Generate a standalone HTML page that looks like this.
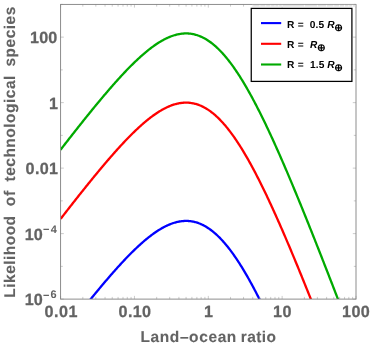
<!DOCTYPE html>
<html><head><meta charset="utf-8"><title>Likelihood of technological species</title>
<style>
html,body{margin:0;padding:0;background:#fff;}
svg{display:block;}
text{font-family:"Liberation Sans",sans-serif;font-weight:bold;}
</style></head><body>
<svg style="will-change:transform" width="371" height="347" viewBox="0 0 371 347">
<rect width="371" height="347" fill="#fff"/>
<defs><clipPath id="c"><rect x="60.6" y="4.4" width="295.4" height="294.7"/></clipPath></defs>
<g clip-path="url(#c)" fill="none" stroke-width="2.3" stroke-linejoin="round">
<path d="M60.60 337.19L61.34 336.24L62.08 335.29L62.82 334.34L63.55 333.39L64.29 332.44L65.03 331.49L65.77 330.54L66.51 329.59L67.25 328.64L67.99 327.70L68.72 326.75L69.46 325.81L70.20 324.86L70.94 323.92L71.68 322.98L72.42 322.04L73.15 321.10L73.89 320.16L74.63 319.22L75.37 318.29L76.11 317.35L76.85 316.41L77.59 315.48L78.32 314.55L79.06 313.62L79.80 312.69L80.54 311.76L81.28 310.83L82.02 309.90L82.75 308.98L83.49 308.05L84.23 307.13L84.97 306.21L85.71 305.29L86.45 304.37L87.19 303.45L87.92 302.54L88.66 301.62L89.40 300.71L90.14 299.80L90.88 298.89L91.62 297.98L92.36 297.08L93.09 296.17L93.83 295.27L94.57 294.37L95.31 293.47L96.05 292.58L96.79 291.68L97.53 290.79L98.26 289.90L99.00 289.01L99.74 288.12L100.48 287.24L101.22 286.35L101.96 285.47L102.69 284.60L103.43 283.72L104.17 282.85L104.91 281.98L105.65 281.11L106.39 280.24L107.13 279.38L107.86 278.52L108.60 277.66L109.34 276.81L110.08 275.95L110.82 275.10L111.56 274.26L112.29 273.42L113.03 272.57L113.77 271.74L114.51 270.90L115.25 270.07L115.99 269.25L116.73 268.42L117.46 267.60L118.20 266.79L118.94 265.97L119.68 265.16L120.42 264.36L121.16 263.56L121.90 262.76L122.63 261.97L123.37 261.18L124.11 260.39L124.85 259.61L125.59 258.83L126.33 258.06L127.06 257.29L127.80 256.53L128.54 255.77L129.28 255.02L130.02 254.27L130.76 253.52L131.50 252.79L132.23 252.05L132.97 251.32L133.71 250.60L134.45 249.88L135.19 249.17L135.93 248.47L136.67 247.77L137.40 247.07L138.14 246.38L138.88 245.70L139.62 245.03L140.36 244.36L141.10 243.70L141.84 243.04L142.57 242.39L143.31 241.75L144.05 241.11L144.79 240.48L145.53 239.86L146.27 239.25L147.00 238.64L147.74 238.04L148.48 237.45L149.22 236.87L149.96 236.29L150.70 235.73L151.44 235.17L152.17 234.62L152.91 234.08L153.65 233.54L154.39 233.02L155.13 232.50L155.87 232.00L156.60 231.50L157.34 231.01L158.08 230.54L158.82 230.07L159.56 229.61L160.30 229.16L161.04 228.72L161.77 228.29L162.51 227.88L163.25 227.47L163.99 227.07L164.73 226.69L165.47 226.31L166.21 225.95L166.94 225.60L167.68 225.26L168.42 224.93L169.16 224.61L169.90 224.31L170.64 224.02L171.38 223.74L172.11 223.47L172.85 223.21L173.59 222.97L174.33 222.74L175.07 222.52L175.81 222.32L176.54 222.13L177.28 221.95L178.02 221.79L178.76 221.64L179.50 221.50L180.24 221.38L180.98 221.27L181.71 221.18L182.45 221.10L183.19 221.03L183.93 220.98L184.67 220.95L185.41 220.92L186.14 220.92L186.88 220.93L187.62 220.95L188.36 220.99L189.10 221.05L189.84 221.12L190.58 221.20L191.31 221.31L192.05 221.42L192.79 221.56L193.53 221.71L194.27 221.87L195.01 222.05L195.75 222.25L196.48 222.47L197.22 222.70L197.96 222.95L198.70 223.21L199.44 223.49L200.18 223.79L200.91 224.10L201.65 224.43L202.39 224.78L203.13 225.14L203.87 225.52L204.61 225.92L205.35 226.34L206.08 226.77L206.82 227.22L207.56 227.68L208.30 228.17L209.04 228.67L209.78 229.18L210.52 229.72L211.25 230.27L211.99 230.83L212.73 231.42L213.47 232.02L214.21 232.64L214.95 233.27L215.69 233.92L216.42 234.59L217.16 235.28L217.90 235.98L218.64 236.70L219.38 237.43L220.12 238.18L220.85 238.95L221.59 239.74L222.33 240.54L223.07 241.35L223.81 242.19L224.55 243.03L225.29 243.90L226.02 244.78L226.76 245.68L227.50 246.59L228.24 247.51L228.98 248.46L229.72 249.41L230.45 250.39L231.19 251.38L231.93 252.38L232.67 253.40L233.41 254.43L234.15 255.48L234.89 256.54L235.62 257.62L236.36 258.71L237.10 259.81L237.84 260.93L238.58 262.06L239.32 263.21L240.06 264.37L240.79 265.54L241.53 266.73L242.27 267.93L243.01 269.14L243.75 270.36L244.49 271.60L245.22 272.85L245.96 274.12L246.70 275.39L247.44 276.68L248.18 277.98L248.92 279.29L249.66 280.61L250.39 281.94L251.13 283.29L251.87 284.65L252.61 286.01L253.35 287.39L254.09 288.78L254.83 290.18L255.56 291.59L256.30 293.01L257.04 294.44L257.78 295.88L258.52 297.33L259.26 298.79L260.00 300.26L260.73 301.74L261.47 303.23L262.21 304.73L262.95 306.24L263.69 307.75L264.43 309.27L265.16 310.81L265.90 312.35L266.64 313.90L267.38 315.46L268.12 317.02L268.86 318.59L269.60 320.18L270.33 321.76L271.07 323.36L271.81 324.96L272.55 326.57L273.29 328.19L274.03 329.82L274.76 331.45L275.50 333.09L276.24 334.73L276.98 336.38L277.72 338.04L278.46 339.71L279.20 341.38L279.93 343.05L280.67 344.74L281.41 346.42L282.15 348.12L282.89 349.82L283.63 351.52L284.37 353.23L285.10 354.95L285.84 356.67L286.58 358.40L287.32 360.13L288.06 361.86L288.80 363.60L289.54 365.35L290.27 367.10L291.01 368.85L291.75 370.61L292.49 372.38L293.23 374.14L293.97 375.92L294.70 377.69L295.44 379.47L296.18 381.26L296.92 383.04L297.66 384.84L298.40 386.63L299.14 388.43L299.87 390.23L300.61 392.04L301.35 393.85L302.09 395.66L302.83 397.48L303.57 399.30L304.30 401.12L305.04 402.94L305.78 404.77L306.52 406.60L307.26 408.44L308.00 410.28L308.74 412.12L309.47 413.96L310.21 415.80L310.95 417.65L311.69 419.50L312.43 421.36L313.17 423.21L313.91 425.07L314.64 426.93L315.38 428.79L316.12 430.66L316.86 432.52L317.60 434.39L318.34 436.26L319.07 438.14L319.81 440.01L320.55 441.89L321.29 443.77L322.03 445.65L322.77 447.53L323.51 449.42L324.24 451.30L324.98 453.19L325.72 455.08L326.46 456.97L327.20 458.87L327.94 460.76L328.68 462.66L329.41 464.56L330.15 466.46L330.89 468.36L331.63 470.26L332.37 472.16L333.11 474.07L333.85 475.97L334.58 477.88L335.32 479.79L336.06 481.70L336.80 483.61L337.54 485.53L338.28 487.44L339.01 489.35L339.75 491.27L340.49 493.19L341.23 495.11L341.97 497.02L342.71 498.94L343.45 500.87L344.18 502.79L344.92 504.71L345.66 506.64L346.40 508.56L347.14 510.49L347.88 512.41L348.62 514.34L349.35 516.27L350.09 518.20L350.83 520.13L351.57 522.06L352.31 523.99L353.05 525.92L353.78 527.86L354.52 529.79L355.26 531.72L356.00 533.66" stroke="#0000ff"/>
<path d="M60.60 218.91L61.34 217.96L62.08 217.00L62.82 216.05L63.55 215.10L64.29 214.15L65.03 213.20L65.77 212.25L66.51 211.31L67.25 210.36L67.99 209.41L68.72 208.47L69.46 207.52L70.20 206.58L70.94 205.64L71.68 204.69L72.42 203.75L73.15 202.81L73.89 201.88L74.63 200.94L75.37 200.00L76.11 199.06L76.85 198.13L77.59 197.20L78.32 196.26L79.06 195.33L79.80 194.40L80.54 193.47L81.28 192.55L82.02 191.62L82.75 190.69L83.49 189.77L84.23 188.85L84.97 187.93L85.71 187.01L86.45 186.09L87.19 185.17L87.92 184.25L88.66 183.34L89.40 182.43L90.14 181.52L90.88 180.61L91.62 179.70L92.36 178.79L93.09 177.89L93.83 176.99L94.57 176.09L95.31 175.19L96.05 174.29L96.79 173.40L97.53 172.50L98.26 171.61L99.00 170.72L99.74 169.84L100.48 168.95L101.22 168.07L101.96 167.19L102.69 166.31L103.43 165.44L104.17 164.56L104.91 163.69L105.65 162.82L106.39 161.96L107.13 161.09L107.86 160.23L108.60 159.38L109.34 158.52L110.08 157.67L110.82 156.82L111.56 155.97L112.29 155.13L113.03 154.29L113.77 153.45L114.51 152.62L115.25 151.79L115.99 150.96L116.73 150.14L117.46 149.32L118.20 148.50L118.94 147.69L119.68 146.88L120.42 146.07L121.16 145.27L121.90 144.47L122.63 143.68L123.37 142.89L124.11 142.11L124.85 141.32L125.59 140.55L126.33 139.78L127.06 139.01L127.80 138.24L128.54 137.49L129.28 136.73L130.02 135.98L130.76 135.24L131.50 134.50L132.23 133.77L132.97 133.04L133.71 132.32L134.45 131.60L135.19 130.89L135.93 130.18L136.67 129.48L137.40 128.79L138.14 128.10L138.88 127.42L139.62 126.74L140.36 126.07L141.10 125.41L141.84 124.75L142.57 124.10L143.31 123.46L144.05 122.83L144.79 122.20L145.53 121.58L146.27 120.96L147.00 120.36L147.74 119.76L148.48 119.17L149.22 118.58L149.96 118.01L150.70 117.44L151.44 116.88L152.17 116.33L152.91 115.79L153.65 115.26L154.39 114.73L155.13 114.22L155.87 113.71L156.60 113.22L157.34 112.73L158.08 112.25L158.82 111.78L159.56 111.32L160.30 110.88L161.04 110.44L161.77 110.01L162.51 109.59L163.25 109.19L163.99 108.79L164.73 108.40L165.47 108.03L166.21 107.67L166.94 107.32L167.68 106.97L168.42 106.65L169.16 106.33L169.90 106.02L170.64 105.73L171.38 105.45L172.11 105.18L172.85 104.93L173.59 104.69L174.33 104.46L175.07 104.24L175.81 104.03L176.54 103.84L177.28 103.67L178.02 103.50L178.76 103.35L179.50 103.22L180.24 103.09L180.98 102.99L181.71 102.89L182.45 102.81L183.19 102.75L183.93 102.70L184.67 102.66L185.41 102.64L186.14 102.63L186.88 102.64L187.62 102.67L188.36 102.71L189.10 102.76L189.84 102.83L190.58 102.92L191.31 103.02L192.05 103.14L192.79 103.27L193.53 103.42L194.27 103.59L195.01 103.77L195.75 103.97L196.48 104.18L197.22 104.41L197.96 104.66L198.70 104.92L199.44 105.21L200.18 105.50L200.91 105.82L201.65 106.15L202.39 106.49L203.13 106.86L203.87 107.24L204.61 107.64L205.35 108.05L206.08 108.48L206.82 108.93L207.56 109.40L208.30 109.88L209.04 110.38L209.78 110.90L210.52 111.43L211.25 111.98L211.99 112.55L212.73 113.13L213.47 113.73L214.21 114.35L214.95 114.99L215.69 115.64L216.42 116.31L217.16 116.99L217.90 117.69L218.64 118.41L219.38 119.15L220.12 119.90L220.85 120.67L221.59 121.45L222.33 122.25L223.07 123.07L223.81 123.90L224.55 124.75L225.29 125.61L226.02 126.49L226.76 127.39L227.50 128.30L228.24 129.23L228.98 130.17L229.72 131.13L230.45 132.10L231.19 133.09L231.93 134.09L232.67 135.11L233.41 136.15L234.15 137.19L234.89 138.26L235.62 139.33L236.36 140.42L237.10 141.53L237.84 142.65L238.58 143.78L239.32 144.92L240.06 146.08L240.79 147.26L241.53 148.44L242.27 149.64L243.01 150.85L243.75 152.08L244.49 153.32L245.22 154.57L245.96 155.83L246.70 157.11L247.44 158.39L248.18 159.69L248.92 161.00L249.66 162.33L250.39 163.66L251.13 165.01L251.87 166.36L252.61 167.73L253.35 169.11L254.09 170.50L254.83 171.90L255.56 173.31L256.30 174.73L257.04 176.16L257.78 177.60L258.52 179.05L259.26 180.51L260.00 181.98L260.73 183.46L261.47 184.95L262.21 186.44L262.95 187.95L263.69 189.47L264.43 190.99L265.16 192.52L265.90 194.06L266.64 195.61L267.38 197.17L268.12 198.74L268.86 200.31L269.60 201.89L270.33 203.48L271.07 205.08L271.81 206.68L272.55 208.29L273.29 209.91L274.03 211.53L274.76 213.16L275.50 214.80L276.24 216.45L276.98 218.10L277.72 219.76L278.46 221.42L279.20 223.09L279.93 224.77L280.67 226.45L281.41 228.14L282.15 229.83L282.89 231.53L283.63 233.24L284.37 234.95L285.10 236.66L285.84 238.38L286.58 240.11L287.32 241.84L288.06 243.58L288.80 245.32L289.54 247.06L290.27 248.81L291.01 250.57L291.75 252.33L292.49 254.09L293.23 255.86L293.97 257.63L294.70 259.41L295.44 261.19L296.18 262.97L296.92 264.76L297.66 266.55L298.40 268.35L299.14 270.14L299.87 271.95L300.61 273.75L301.35 275.56L302.09 277.38L302.83 279.19L303.57 281.01L304.30 282.83L305.04 284.66L305.78 286.49L306.52 288.32L307.26 290.15L308.00 291.99L308.74 293.83L309.47 295.67L310.21 297.52L310.95 299.37L311.69 301.22L312.43 303.07L313.17 304.93L313.91 306.78L314.64 308.64L315.38 310.51L316.12 312.37L316.86 314.24L317.60 316.11L318.34 317.98L319.07 319.85L319.81 321.73L320.55 323.61L321.29 325.48L322.03 327.37L322.77 329.25L323.51 331.13L324.24 333.02L324.98 334.91L325.72 336.80L326.46 338.69L327.20 340.58L327.94 342.48L328.68 344.37L329.41 346.27L330.15 348.17L330.89 350.07L331.63 351.97L332.37 353.88L333.11 355.78L333.85 357.69L334.58 359.60L335.32 361.51L336.06 363.42L336.80 365.33L337.54 367.24L338.28 369.15L339.01 371.07L339.75 372.99L340.49 374.90L341.23 376.82L341.97 378.74L342.71 380.66L343.45 382.58L344.18 384.50L344.92 386.43L345.66 388.35L346.40 390.28L347.14 392.20L347.88 394.13L348.62 396.06L349.35 397.98L350.09 399.91L350.83 401.84L351.57 403.77L352.31 405.71L353.05 407.64L353.78 409.57L354.52 411.51L355.26 413.44L356.00 415.37" stroke="#ff0000"/>
<path d="M60.60 149.72L61.34 148.76L62.08 147.81L62.82 146.86L63.55 145.91L64.29 144.96L65.03 144.01L65.77 143.06L66.51 142.11L67.25 141.17L67.99 140.22L68.72 139.28L69.46 138.33L70.20 137.39L70.94 136.44L71.68 135.50L72.42 134.56L73.15 133.62L73.89 132.68L74.63 131.75L75.37 130.81L76.11 129.87L76.85 128.94L77.59 128.00L78.32 127.07L79.06 126.14L79.80 125.21L80.54 124.28L81.28 123.35L82.02 122.43L82.75 121.50L83.49 120.58L84.23 119.65L84.97 118.73L85.71 117.81L86.45 116.89L87.19 115.98L87.92 115.06L88.66 114.15L89.40 113.24L90.14 112.32L90.88 111.42L91.62 110.51L92.36 109.60L93.09 108.70L93.83 107.79L94.57 106.89L95.31 106.00L96.05 105.10L96.79 104.20L97.53 103.31L98.26 102.42L99.00 101.53L99.74 100.64L100.48 99.76L101.22 98.88L101.96 98.00L102.69 97.12L103.43 96.24L104.17 95.37L104.91 94.50L105.65 93.63L106.39 92.77L107.13 91.90L107.86 91.04L108.60 90.18L109.34 89.33L110.08 88.48L110.82 87.63L111.56 86.78L112.29 85.94L113.03 85.10L113.77 84.26L114.51 83.43L115.25 82.60L115.99 81.77L116.73 80.95L117.46 80.13L118.20 79.31L118.94 78.50L119.68 77.69L120.42 76.88L121.16 76.08L121.90 75.28L122.63 74.49L123.37 73.70L124.11 72.91L124.85 72.13L125.59 71.36L126.33 70.58L127.06 69.82L127.80 69.05L128.54 68.29L129.28 67.54L130.02 66.79L130.76 66.05L131.50 65.31L132.23 64.58L132.97 63.85L133.71 63.12L134.45 62.41L135.19 61.70L135.93 60.99L136.67 60.29L137.40 59.60L138.14 58.91L138.88 58.23L139.62 57.55L140.36 56.88L141.10 56.22L141.84 55.56L142.57 54.91L143.31 54.27L144.05 53.63L144.79 53.01L145.53 52.38L146.27 51.77L147.00 51.16L147.74 50.57L148.48 49.97L149.22 49.39L149.96 48.82L150.70 48.25L151.44 47.69L152.17 47.14L152.91 46.60L153.65 46.07L154.39 45.54L155.13 45.03L155.87 44.52L156.60 44.02L157.34 43.54L158.08 43.06L158.82 42.59L159.56 42.13L160.30 41.68L161.04 41.25L161.77 40.82L162.51 40.40L163.25 39.99L163.99 39.60L164.73 39.21L165.47 38.84L166.21 38.47L166.94 38.12L167.68 37.78L168.42 37.45L169.16 37.14L169.90 36.83L170.64 36.54L171.38 36.26L172.11 35.99L172.85 35.74L173.59 35.49L174.33 35.26L175.07 35.05L175.81 34.84L176.54 34.65L177.28 34.47L178.02 34.31L178.76 34.16L179.50 34.02L180.24 33.90L180.98 33.79L181.71 33.70L182.45 33.62L183.19 33.55L183.93 33.50L184.67 33.47L185.41 33.45L186.14 33.44L186.88 33.45L187.62 33.47L188.36 33.51L189.10 33.57L189.84 33.64L190.58 33.73L191.31 33.83L192.05 33.95L192.79 34.08L193.53 34.23L194.27 34.40L195.01 34.58L195.75 34.78L196.48 34.99L197.22 35.22L197.96 35.47L198.70 35.73L199.44 36.01L200.18 36.31L200.91 36.62L201.65 36.95L202.39 37.30L203.13 37.67L203.87 38.05L204.61 38.45L205.35 38.86L206.08 39.29L206.82 39.74L207.56 40.21L208.30 40.69L209.04 41.19L209.78 41.71L210.52 42.24L211.25 42.79L211.99 43.36L212.73 43.94L213.47 44.54L214.21 45.16L214.95 45.80L215.69 46.45L216.42 47.12L217.16 47.80L217.90 48.50L218.64 49.22L219.38 49.96L220.12 50.71L220.85 51.48L221.59 52.26L222.33 53.06L223.07 53.88L223.81 54.71L224.55 55.56L225.29 56.42L226.02 57.30L226.76 58.20L227.50 59.11L228.24 60.04L228.98 60.98L229.72 61.94L230.45 62.91L231.19 63.90L231.93 64.90L232.67 65.92L233.41 66.95L234.15 68.00L234.89 69.06L235.62 70.14L236.36 71.23L237.10 72.33L237.84 73.45L238.58 74.59L239.32 75.73L240.06 76.89L240.79 78.06L241.53 79.25L242.27 80.45L243.01 81.66L243.75 82.89L244.49 84.13L245.22 85.38L245.96 86.64L246.70 87.91L247.44 89.20L248.18 90.50L248.92 91.81L249.66 93.13L250.39 94.47L251.13 95.81L251.87 97.17L252.61 98.54L253.35 99.92L254.09 101.30L254.83 102.70L255.56 104.11L256.30 105.54L257.04 106.97L257.78 108.41L258.52 109.86L259.26 111.32L260.00 112.79L260.73 114.27L261.47 115.75L262.21 117.25L262.95 118.76L263.69 120.27L264.43 121.80L265.16 123.33L265.90 124.87L266.64 126.42L267.38 127.98L268.12 129.54L268.86 131.12L269.60 132.70L270.33 134.29L271.07 135.88L271.81 137.49L272.55 139.10L273.29 140.72L274.03 142.34L274.76 143.97L275.50 145.61L276.24 147.26L276.98 148.91L277.72 150.57L278.46 152.23L279.20 153.90L279.93 155.58L280.67 157.26L281.41 158.95L282.15 160.64L282.89 162.34L283.63 164.05L284.37 165.76L285.10 167.47L285.84 169.19L286.58 170.92L287.32 172.65L288.06 174.39L288.80 176.13L289.54 177.87L290.27 179.62L291.01 181.38L291.75 183.14L292.49 184.90L293.23 186.67L293.97 188.44L294.70 190.21L295.44 191.99L296.18 193.78L296.92 195.57L297.66 197.36L298.40 199.15L299.14 200.95L299.87 202.76L300.61 204.56L301.35 206.37L302.09 208.18L302.83 210.00L303.57 211.82L304.30 213.64L305.04 215.47L305.78 217.30L306.52 219.13L307.26 220.96L308.00 222.80L308.74 224.64L309.47 226.48L310.21 228.33L310.95 230.18L311.69 232.03L312.43 233.88L313.17 235.73L313.91 237.59L314.64 239.45L315.38 241.32L316.12 243.18L316.86 245.05L317.60 246.92L318.34 248.79L319.07 250.66L319.81 252.54L320.55 254.41L321.29 256.29L322.03 258.17L322.77 260.06L323.51 261.94L324.24 263.83L324.98 265.72L325.72 267.61L326.46 269.50L327.20 271.39L327.94 273.29L328.68 275.18L329.41 277.08L330.15 278.98L330.89 280.88L331.63 282.78L332.37 284.69L333.11 286.59L333.85 288.50L334.58 290.41L335.32 292.31L336.06 294.22L336.80 296.14L337.54 298.05L338.28 299.96L339.01 301.88L339.75 303.79L340.49 305.71L341.23 307.63L341.97 309.55L342.71 311.47L343.45 313.39L344.18 315.31L344.92 317.23L345.66 319.16L346.40 321.08L347.14 323.01L347.88 324.94L348.62 326.86L349.35 328.79L350.09 330.72L350.83 332.65L351.57 334.58L352.31 336.51L353.05 338.45L353.78 340.38L354.52 342.31L355.26 344.25L356.00 346.18" stroke="#00aa00"/>
</g>
<path d="M60.60 299.1v-3.2M60.60 4.4v3.2M134.45 299.1v-3.2M134.45 4.4v3.2M208.30 299.1v-3.2M208.30 4.4v3.2M282.15 299.1v-3.2M282.15 4.4v3.2M356.00 299.1v-3.2M356.00 4.4v3.2M82.83 299.1v-2.2M82.83 4.4v2.2M95.84 299.1v-2.2M95.84 4.4v2.2M105.06 299.1v-2.2M105.06 4.4v2.2M112.22 299.1v-2.2M112.22 4.4v2.2M118.07 299.1v-2.2M118.07 4.4v2.2M123.01 299.1v-2.2M123.01 4.4v2.2M127.29 299.1v-2.2M127.29 4.4v2.2M131.07 299.1v-2.2M131.07 4.4v2.2M156.68 299.1v-2.2M156.68 4.4v2.2M169.69 299.1v-2.2M169.69 4.4v2.2M178.91 299.1v-2.2M178.91 4.4v2.2M186.07 299.1v-2.2M186.07 4.4v2.2M191.92 299.1v-2.2M191.92 4.4v2.2M196.86 299.1v-2.2M196.86 4.4v2.2M201.14 299.1v-2.2M201.14 4.4v2.2M204.92 299.1v-2.2M204.92 4.4v2.2M230.53 299.1v-2.2M230.53 4.4v2.2M243.54 299.1v-2.2M243.54 4.4v2.2M252.76 299.1v-2.2M252.76 4.4v2.2M259.92 299.1v-2.2M259.92 4.4v2.2M265.77 299.1v-2.2M265.77 4.4v2.2M270.71 299.1v-2.2M270.71 4.4v2.2M274.99 299.1v-2.2M274.99 4.4v2.2M278.77 299.1v-2.2M278.77 4.4v2.2M304.38 299.1v-2.2M304.38 4.4v2.2M317.39 299.1v-2.2M317.39 4.4v2.2M326.61 299.1v-2.2M326.61 4.4v2.2M333.77 299.1v-2.2M333.77 4.4v2.2M339.62 299.1v-2.2M339.62 4.4v2.2M344.56 299.1v-2.2M344.56 4.4v2.2M348.84 299.1v-2.2M348.84 4.4v2.2M352.62 299.1v-2.2M352.62 4.4v2.2M60.6 299.10h3.2M356.0 299.10h-3.2M60.6 233.61h3.2M356.0 233.61h-3.2M60.6 168.12h3.2M356.0 168.12h-3.2M60.6 102.63h3.2M356.0 102.63h-3.2M60.6 37.14h3.2M356.0 37.14h-3.2M60.6 266.36h2.2M356.0 266.36h-2.2M60.6 200.87h2.2M356.0 200.87h-2.2M60.6 135.38h2.2M356.0 135.38h-2.2M60.6 69.89h2.2M356.0 69.89h-2.2M60.6 4.40h2.2M356.0 4.40h-2.2" stroke="#a8a8a8" stroke-width="0.6" fill="none"/>
<rect x="60.6" y="4.4" width="295.4" height="294.7" fill="none" stroke="#808080" stroke-width="0.9"/>
<g fill="#636363" stroke="#636363" stroke-width="0.1" stroke-linejoin="round">
<text transform="translate(30.08 43.3) matrix(1 0 0.002 1 0 0)" font-size="16.2" letter-spacing="0.122" stroke-width="0.25">100</text>
<text transform="translate(49.05 108.8) matrix(1 0 0.002 1 0 0)" font-size="16.2" stroke-width="0.25">1</text>
<text transform="translate(25.58 174.0) matrix(1 0 0.002 1 0 0)" font-size="16.2" letter-spacing="0.333" stroke-width="0.25">0.01</text>
<text transform="translate(24.81 240.1) matrix(1 0 0.002 1 0 0)" font-size="16.2" letter-spacing="-0.186" stroke-width="0.25">10</text>
<text transform="translate(43.02 233.4) matrix(1 0 0.002 1 0 0)" font-size="11.0" stroke-width="0.0">−</text>
<text transform="translate(50.63 232.5) matrix(1 0 0.002 1 0 0)" font-size="11.0" stroke-width="0.0">4</text>
<text transform="translate(24.81 305.1) matrix(1 0 0.002 1 0 0)" font-size="16.2" letter-spacing="-0.186" stroke-width="0.25">10</text>
<text transform="translate(43.02 298.85) matrix(1 0 0.002 1 0 0)" font-size="11.0" stroke-width="0.0">−</text>
<text transform="translate(50.60 297.95) matrix(1 0 0.002 1 0 0)" font-size="11.0" stroke-width="0.0">6</text>
<text transform="translate(44.62 317.4) matrix(1 0 0.002 1 0 0)" font-size="16.2" letter-spacing="0.425" stroke-width="0.25">0.01</text>
<text transform="translate(118.62 317.4) matrix(1 0 0.002 1 0 0)" font-size="16.2" letter-spacing="0.291" stroke-width="0.25">0.10</text>
<text transform="translate(203.97 317.4) matrix(1 0 0.002 1 0 0)" font-size="16.2" stroke-width="0.25">1</text>
<text transform="translate(273.01 317.4) matrix(1 0 0.002 1 0 0)" font-size="16.2" letter-spacing="0.558" stroke-width="0.25">10</text>
<text transform="translate(342.08 317.4) matrix(1 0 0.002 1 0 0)" font-size="16.2" letter-spacing="0.378" stroke-width="0.25">100</text>
<text transform="translate(140.44 342.1) matrix(1 0 0.002 1 0 0)" font-size="15.5" letter-spacing="0.605">Land–ocean</text>
<text transform="translate(240.65 342.1) matrix(1 0 0.002 1 0 0)" font-size="15.5" letter-spacing="0.462">ratio</text>
<text transform="translate(15.0 297.67) rotate(-90) matrix(1 0 0.002 1 0 0)" font-size="15.5" letter-spacing="0.469">Likelihood</text>
<text transform="translate(15.0 206.13) rotate(-90) matrix(1 0 0.002 1 0 0)" font-size="15.5" letter-spacing="0.699">of</text>
<text transform="translate(15.0 181.48) rotate(-90) matrix(1 0 0.002 1 0 0)" font-size="15.5" letter-spacing="0.493">technological</text>
<text transform="translate(15.0 66.55) rotate(-90) matrix(1 0 0.002 1 0 0)" font-size="15.5" letter-spacing="0.497">species</text>
</g>
<!-- legend -->
<rect x="252" y="3.5" width="105" height="4" fill="#fff" fill-opacity="0.15"/>
<rect x="252" y="5.2" width="103.5" height="1.3" fill="#dedede"/>
<path d="M252.76 4.9v2M259.92 4.9v2M265.77 4.9v2M270.71 4.9v2M274.99 4.9v2M278.77 4.9v2M304.38 4.9v2M317.39 4.9v2M326.61 4.9v2M333.77 4.9v2M339.62 4.9v2M344.56 4.9v2M348.84 4.9v2M352.62 4.9v2M282.15 4.9v2" stroke="#fff" stroke-width="0.9" fill="none"/>
<rect x="251.25" y="8.4" width="100.65" height="73" fill="#fff" stroke="#000" stroke-width="1.25"/>
<g stroke-width="2.1" fill="none">
<path d="M261 23.1h20.2" stroke="#0000ff"/>
<path d="M261 43.8h20.2" stroke="#ff0000"/>
<path d="M261 64.5h20.2" stroke="#00aa00"/>
</g>
<g fill="#000">
<text transform="translate(286.89 28.0) matrix(1 0 0.002 1 0 0)" font-size="10.2" letter-spacing="0.307">R =</text><text transform="translate(309.79 28.0) matrix(1 0 0.002 1 0 0)" font-size="10.2" letter-spacing="0.145">0.5</text><text transform="translate(327.13 28.0) matrix(1 0 0.002 1 0 0)" font-size="10.23" font-style="italic">R</text><text x="334.3" y="30.65" font-size="10.3" font-weight="normal" text-rendering="geometricPrecision" font-family="'DejaVu Sans',sans-serif">⊕</text>
<text transform="translate(286.89 48.1) matrix(1 0 0.002 1 0 0)" font-size="10.2" letter-spacing="0.307">R =</text><text transform="translate(310.02 48.1) matrix(1 0 0.002 1 0 0)" font-size="10.09" font-style="italic">R</text><text x="317.0" y="50.75" font-size="10.3" font-weight="normal" text-rendering="geometricPrecision" font-family="'DejaVu Sans',sans-serif">⊕</text>
<text transform="translate(286.89 68.35) matrix(1 0 0.002 1 0 0)" font-size="10.2" letter-spacing="0.307">R =</text><text transform="translate(309.89 68.35) matrix(1 0 0.002 1 0 0)" font-size="10.2" letter-spacing="0.222">1.5</text><text transform="translate(327.13 68.35) matrix(1 0 0.002 1 0 0)" font-size="10.23" font-style="italic">R</text><text x="334.3" y="71.0" font-size="10.3" font-weight="normal" text-rendering="geometricPrecision" font-family="'DejaVu Sans',sans-serif">⊕</text>
</g>
</svg>
</body></html>
